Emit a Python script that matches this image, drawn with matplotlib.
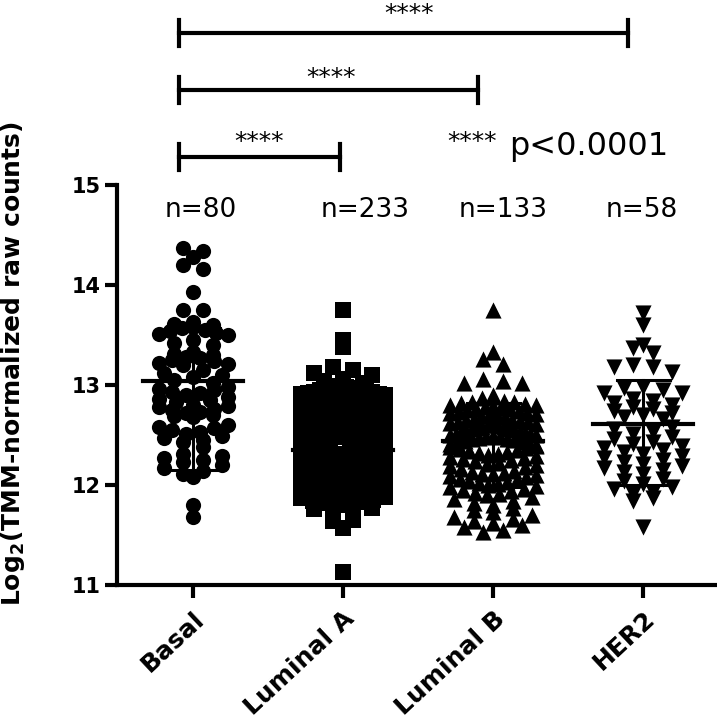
import numpy as np
import matplotlib
matplotlib.use("Agg")
import matplotlib.pyplot as plt
import matplotlib.transforms as mtransforms

plt.rcParams["font.family"] = ["DejaVu Sans"]

# groups and values
groups = ["Basal", "Luminal A", "Luminal B", "HER2"]
n_text = ["n=80", "n=233", "n=133", "n=58"]
markers = ["o", "s", "^", "v"]

basal = [14.37, 14.34, 14.28, 14.20, 14.16, 13.93, 13.75, 13.75,
         13.63, 13.61, 13.60, 13.58, 13.57, 13.55, 13.54, 13.52, 13.51, 13.50,
         13.45, 13.42, 13.40,
         13.33, 13.31, 13.30, 13.28, 13.27, 13.25, 13.24, 13.22, 13.21, 13.20,
         13.15, 13.12, 13.10, 13.08, 13.05, 13.02,
         12.98, 12.96, 12.95, 12.93, 12.92, 12.90, 12.88, 12.86, 12.85, 12.83,
         12.80, 12.79, 12.78, 12.76, 12.75, 12.73, 12.72, 12.70, 12.69, 12.68,
         12.60, 12.58, 12.57, 12.55, 12.53, 12.51, 12.49, 12.47, 12.45, 12.43,
         12.38,
         12.31, 12.29, 12.27, 12.25, 12.23, 12.20, 12.17, 12.14, 12.11, 12.08,
         11.80, 11.68]

luminal_a = [13.75, 13.45, 13.38, 13.18, 13.15, 13.12, 13.10, 13.06, 13.04, 13.02,
             12.99, 12.98, 12.98, 12.97, 12.96, 12.95, 12.95, 12.94, 12.93, 12.93,
             12.92, 12.91, 12.91, 12.90,
             12.89, 12.89, 12.88, 12.87, 12.87, 12.86, 12.85, 12.85, 12.84, 12.84,
             12.83, 12.82, 12.82, 12.81, 12.81, 12.80, 12.80,
             12.79, 12.79, 12.78, 12.78, 12.77, 12.77, 12.76, 12.76, 12.75, 12.75,
             12.74, 12.74, 12.73, 12.73, 12.72, 12.72, 12.71, 12.71, 12.70,
             12.69, 12.69, 12.68, 12.68, 12.67, 12.67, 12.66, 12.66, 12.65, 12.65,
             12.64, 12.64, 12.63, 12.63, 12.62, 12.62, 12.61, 12.61, 12.60, 12.60,
             12.59, 12.59, 12.58, 12.58, 12.57, 12.57, 12.56, 12.56, 12.55, 12.55,
             12.54, 12.54, 12.53, 12.53, 12.52, 12.52, 12.51, 12.51, 12.50, 12.50,
             12.49, 12.49, 12.48, 12.48, 12.47, 12.47, 12.46, 12.46, 12.45, 12.45,
             12.45, 12.44, 12.44, 12.43, 12.43, 12.42, 12.42, 12.41, 12.41, 12.40, 12.40,
             12.39, 12.39, 12.38, 12.38, 12.37, 12.37, 12.36, 12.36, 12.35, 12.35,
             12.35, 12.34, 12.34, 12.33, 12.33, 12.32, 12.32, 12.31, 12.31, 12.30, 12.30,
             12.29, 12.29, 12.28, 12.28, 12.27, 12.27, 12.26, 12.26, 12.25, 12.25,
             12.25, 12.24, 12.24, 12.23, 12.23, 12.22, 12.22, 12.21, 12.21, 12.20, 12.20,
             12.19, 12.19, 12.18, 12.18, 12.17, 12.17, 12.16, 12.16, 12.15, 12.15,
             12.14, 12.14, 12.13, 12.13, 12.12, 12.12, 12.11, 12.11, 12.10, 12.10,
             12.09, 12.09, 12.08, 12.08, 12.07, 12.06, 12.06, 12.05, 12.05, 12.04,
             12.04, 12.03, 12.03, 12.02, 12.02, 12.01, 12.01, 12.00,
             11.99, 11.99, 11.98, 11.97, 11.97, 11.96, 11.95, 11.95, 11.94, 11.93,
             11.93, 11.92, 11.91, 11.91, 11.90, 11.90,
             11.88, 11.87, 11.85, 11.84, 11.83, 11.82, 11.80, 11.80,
             11.77, 11.76, 11.72, 11.71, 11.65, 11.64, 11.57, 11.13]

luminal_b = [13.75, 13.33, 13.26, 13.21, 13.06, 13.04, 13.02, 13.02, 12.90, 12.88, 12.87,
             12.84, 12.83, 12.83, 12.82, 12.81, 12.80, 12.80, 12.79, 12.78, 12.77,
             12.76, 12.76, 12.75, 12.74, 12.73, 12.72, 12.72, 12.71, 12.70, 12.70,
             12.69, 12.68,
             12.66, 12.65, 12.65, 12.64, 12.63, 12.63, 12.62, 12.61, 12.60, 12.60,
             12.59, 12.58, 12.58, 12.57, 12.56, 12.56, 12.55, 12.54, 12.53, 12.53,
             12.52, 12.51, 12.51, 12.50, 12.50, 12.49, 12.48, 12.48,
             12.47, 12.46, 12.46, 12.45, 12.44, 12.43, 12.42, 12.42, 12.41, 12.40,
             12.39, 12.38,
             12.37, 12.36, 12.35, 12.34, 12.33, 12.32, 12.31, 12.30, 12.29, 12.28,
             12.27, 12.26, 12.25, 12.24, 12.22, 12.21, 12.20, 12.19, 12.18, 12.16,
             12.14, 12.13, 12.12, 12.11, 12.11, 12.10, 12.09, 12.08,
             12.06, 12.05, 12.04, 12.03, 12.02, 12.01, 12.00, 11.99, 11.98, 11.96,
             11.95, 11.94, 11.92, 11.91, 11.90, 11.88,
             11.86, 11.84, 11.82, 11.80, 11.77, 11.75, 11.73, 11.70,
             11.68, 11.66, 11.64, 11.62, 11.60, 11.58, 11.55, 11.53]

her2 = [13.72, 13.60, 13.40, 13.37, 13.32, 13.20, 13.18, 13.18, 13.13,
        12.98, 12.97, 12.95, 12.92, 12.92,
        12.86, 12.84, 12.82, 12.80, 12.78, 12.76, 12.74, 12.72, 12.70, 12.68, 12.66,
        12.58, 12.56, 12.53, 12.51, 12.48, 12.46, 12.43, 12.41, 12.39, 12.37, 12.35,
        12.33, 12.31, 12.29, 12.27, 12.25, 12.23, 12.21, 12.19, 12.17, 12.15, 12.13, 12.11,
        12.06, 12.04, 12.01, 11.98, 11.96, 11.93, 11.91, 11.87, 11.84,
        11.58]

# centre line and error bar ends as drawn in the figure
centre = [13.04, 12.35, 12.44, 12.61]
bar_low = [12.15, 12.05, 11.98, 12.00]
bar_high = [13.57, 12.65, 12.82, 13.05]


def swarm(values, mid, step, span, binw=0.1):
    v = np.asarray(values, float)
    x = np.zeros_like(v)
    b = np.floor(v / binw).astype(int)
    for k in np.unique(b):
        idx = np.where(b == k)[0]
        n = len(idx)
        if n == 1:
            continue
        d = min(step, span / (n - 1))
        slots = (np.arange(n) - (n - 1) / 2) * d
        slots = slots[np.argsort(np.abs(slots), kind="stable")]
        if v[idx].mean() >= mid:
            order = idx[np.argsort(-v[idx], kind="stable")]
        else:
            order = idx[np.argsort(v[idx], kind="stable")]
        x[order] = slots
    return x


fig = plt.figure(figsize=(7.17, 7.25), dpi=100)
ax = fig.add_axes([117 / 717, 1 - 585 / 725, 600 / 717, 400 / 725])

data = [basal, luminal_a, luminal_b, her2]
spans = [0.46, 0.56, 0.57, 0.52]
sizes = [120, 125, 135, 135]
for i, vals in enumerate(data):
    xs = swarm(vals, centre[i], 0.13, spans[i]) + i
    ax.scatter(xs, vals, marker=markers[i], s=sizes[i], color="black",
               linewidths=0, zorder=2)
    ax.plot([i - 0.333, i + 0.333], [centre[i], centre[i]], color="black", lw=3, zorder=3)
    ax.plot([i, i], [bar_low[i], bar_high[i]], color="black", lw=2.2, zorder=3)
    for yv in (bar_low[i], bar_high[i]):
        ax.plot([i - 0.177, i + 0.177], [yv, yv], color="black", lw=2.2, zorder=3)

n_x = [0.053, 1.147, 2.067, 2.993]
for xv, t in zip(n_x, n_text):
    ax.text(xv, 14.68, t, ha="center", va="baseline", fontsize=19)

# significance brackets
brackets = [(-0.093, 0.98, 15.28), (-0.093, 1.90, 15.95), (-0.093, 2.90, 16.52)]
stars_xy = [(0.44, 15.36), (0.92, 16.00), (1.44, 16.64)]
for (x0, x1, yb), (sx, sy) in zip(brackets, stars_xy):
    ax.plot([x0, x1], [yb, yb], color="black", lw=3, clip_on=False)
    for xe in (x0, x1):
        ax.plot([xe, xe], [yb - 0.13, yb + 0.13], color="black", lw=3, clip_on=False)
    ax.text(sx, sy, "****", ha="center", va="baseline", fontsize=18)
ax.text(1.86, 15.36, "****", ha="center", va="baseline", fontsize=18)
ax.text(2.107, 15.30, "p<0.0001", ha="left", va="baseline", fontsize=23)

ax.set_xlim(-0.507, 3.493)
ax.set_ylim(11, 15)
ax.set_yticks([11, 12, 13, 14, 15])
ax.set_xticks(range(4))
ax.set_xticklabels(groups, rotation=43, ha="right", va="top",
                   rotation_mode="anchor", fontsize=18, fontweight="bold")
shift = mtransforms.ScaledTranslation(7 / 100, 0, fig.dpi_scale_trans)
for lbl in ax.get_xticklabels():
    lbl.set_transform(lbl.get_transform() + shift)
for lbl in ax.get_yticklabels():
    lbl.set_fontweight("bold")
ax.tick_params(axis="y", labelsize=15, length=9, width=3, pad=3)
ax.tick_params(axis="x", length=9.5, width=3, pad=6)

for side in ("top", "right"):
    ax.spines[side].set_visible(False)
for side in ("left", "bottom"):
    ax.spines[side].set_linewidth(3)

ax.set_ylabel("Log$_{\\mathbf{2}}$(TMM-normalized raw counts)", fontsize=18,
              fontweight="bold", va="center")
ax.yaxis.set_label_coords(-0.173, 0.554)

fig.savefig("out.png", dpi=100)
